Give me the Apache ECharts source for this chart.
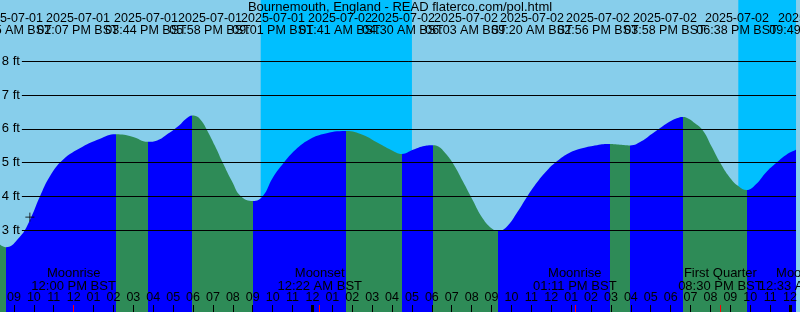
<!DOCTYPE html>
<html><head><meta charset="utf-8">
<script src="https://cdn.jsdelivr.net/npm/echarts@6/dist/echarts.min.js"></script>
<style>html,body{margin:0;padding:0;background:#87CEEB}#c{width:800px;height:312px}</style>
</head><body><div id="c"></div>
<script>
const titleText = 'Bournemouth, England - READ flaterco.com/pol.html';
// time in hours since 2025-07-01 00:00 BST, height in feet
const tideHours = [8.30, 8.583, 9.30, 9.80, 10.30, 10.80, 11.45, 12.45, 13.30, 14.117, 14.95, 15.733, 16.20, 16.65, 17.30, 17.65, 17.967, 18.20, 18.45, 18.70, 19.10, 19.50, 19.95, 20.40, 21.017, 21.50, 22.00, 22.55, 23.15, 23.80, 24.55, 25.683, 26.55, 27.30, 28.05, 28.50, 29.05, 29.55, 30.05, 30.35, 30.65, 31.05, 31.55, 32.05, 32.55, 33.05, 33.333, 33.80, 34.30, 34.80, 35.30, 35.80, 36.30, 36.90, 37.55, 38.30, 38.933, 39.45, 39.967, 40.55, 41.05, 41.55, 42.10, 42.40, 42.633, 42.90, 43.15, 43.60, 44.05, 44.50, 44.95, 45.40, 45.817, 46.30, 46.80, 47.30, 47.80, 48.30];
const tideFeet = [2.57, 2.50, 2.81, 3.30, 3.99, 4.59, 5.08, 5.47, 5.70, 5.84, 5.77, 5.62, 5.66, 5.82, 6.10, 6.30, 6.40, 6.37, 6.22, 5.97, 5.50, 4.99, 4.46, 4.01, 3.87, 4.01, 4.55, 4.99, 5.38, 5.67, 5.85, 5.94, 5.82, 5.58, 5.35, 5.26, 5.38, 5.49, 5.52, 5.47, 5.30, 4.99, 4.46, 3.90, 3.36, 3.04, 2.98, 3.13, 3.54, 4.01, 4.43, 4.78, 5.05, 5.29, 5.43, 5.52, 5.55, 5.53, 5.51, 5.64, 5.85, 6.06, 6.26, 6.33, 6.35, 6.30, 6.20, 5.97, 5.49, 4.99, 4.58, 4.31, 4.19, 4.37, 4.72, 4.99, 5.23, 5.38];
const extremeHours = [8.583, 14.117, 15.733, 17.967, 21.017, 25.683, 28.50, 30.05, 33.333, 38.933, 39.967, 42.633, 45.817];
const extremeDates = ['2025-07-01','2025-07-01','2025-07-01','2025-07-01','2025-07-01','2025-07-02','2025-07-02','2025-07-02','2025-07-02','2025-07-02','2025-07-02','2025-07-02','2025-07-02'];
const extremeTimes = ['08:35 AM BST','02:07 PM BST','03:44 PM BST','05:58 PM BST','09:01 PM BST','01:41 AM BST','04:30 AM BST','06:03 AM BST','09:20 AM BST','02:56 PM BST','03:58 PM BST','06:38 PM BST','09:49 PM BST'];
const nightStart = [21.40, 45.40];
const nightEnd = [29.00, 48.30];
const hourTicks = [9,10,11,12,13,14,15,16,17,18,19,20,21,22,23,24,25,26,27,28,29,30,31,32,33,34,35,36,37,38,39,40,41,42,43,44,45,46,47,48];
const midnightTicks = [24, 48];
const moonHours = [12.0, 24.367, 37.183, 44.5, 48.55];
const moonEvents = ['Moonrise','Moonset','Moonrise','First Quarter','Moonset'];
const moonTimes = ['12:00 PM BST','12:22 AM BST','01:11 PM BST','08:30 PM BST','12:33 AM BST'];
const depthTicks = [3, 4, 5, 6, 7, 8];
const nowMark = [9.8, 3.39];

// layout: pixel centres of the event label columns at the top
const labelCentres = [11, 78, 146, 210, 273, 340, 403, 466, 532, 598, 665, 737, 810];

const X_MIN = 8.3, X_MAX = 48.3, Y_MIN = 0.583, Y_MAX = 9.814;
const FONT = '"Liberation Sans", Arial, sans-serif';
const FLOOD = '#0000FF', EBB = '#2E8B57';

const chart = echarts.init(document.getElementById('c'), null, {renderer: 'canvas'});

const bounds = [tideHours[0]].concat(extremeHours, [tideHours[tideHours.length - 1]]);
const pieces = [];
for (let k = 0; k < bounds.length - 1; k++) {
  const a = bounds[k], b = bounds[k + 1];
  const ha = tideFeet[tideHours.indexOf(a)], hb = tideFeet[tideHours.indexOf(b)];
  const p = {gte: a, color: hb > ha ? FLOOD : EBB};
  if (k === bounds.length - 2) p.lte = b; else p.lt = b;
  pieces.push(p);
}

const pad = n => (n < 10 ? '0' : '') + n;
const inRange = v => v >= X_MIN && v <= X_MAX;

function tickAxis(values, color, width, withLabels, z) {
  return {
    type: 'value', min: X_MIN, max: X_MAX, position: 'bottom', z: z,
    axisLine: {show: false}, splitLine: {show: false},
    axisTick: {show: true, inside: true, length: 7, customValues: values, lineStyle: {color: color, width: width}},
    axisLabel: withLabels ? {show: true, inside: true, margin: 8, customValues: values, color: '#000', fontSize: 12.5, fontFamily: FONT,
      formatter: v => pad((v % 12) || 12)} : {show: false}
  };
}

chart.setOption({
  animation: false,
  backgroundColor: '#87CEEB',
  title: {text: titleText, left: 'center', top: 1, padding: 0,
    textStyle: {fontSize: 13, fontWeight: 'normal', color: '#000', fontFamily: FONT, lineHeight: 13}},
  grid: {left: 0, right: 0, top: 0, bottom: 0, containLabel: false},
  xAxis: [
    tickAxis(hourTicks, '#000', 1, true, 10),
    tickAxis(midnightTicks, '#000', 3, false, 11),
    tickAxis(moonHours.filter(inRange), '#FF0000', 1, false, 12)
  ],
  yAxis: {type: 'value', min: Y_MIN, max: Y_MAX, show: false},
  visualMap: {type: 'piecewise', show: false, dimension: 0, seriesIndex: 0, pieces: pieces},
  series: [
    {
      type: 'line', xAxisIndex: 0, z: 2,
      data: tideHours.map((t, i) => [t, tideFeet[i]]),
      smooth: 0.45, showSymbol: false, silent: true,
      lineStyle: {width: 0},
      areaStyle: {opacity: 1, origin: 'start'},
      markArea: {silent: true, z: 1, itemStyle: {color: '#00BFFF'},
        data: nightStart.map((s, i) => [{xAxis: s}, {xAxis: nightEnd[i]}])},
      markLine: {silent: true, z: 5, symbol: ['none', 'none'],
        lineStyle: {color: '#000', width: 1, type: 'solid', opacity: 1},
        label: {show: true, position: 'start', distance: 2, color: '#000', fontSize: 13, fontFamily: FONT, formatter: '{b}'},
        emphasis: {disabled: true},
        data: depthTicks.map(v => [{coord: [9.4, v], name: v + ' ft'}, {coord: [X_MAX, v]}])}
    },
    {
      type: 'scatter', xAxisIndex: 0, z: 6, silent: true,
      data: [nowMark],
      symbol: 'path://M0,5L10,5M5,0L5,10', symbolSize: 9,
      itemStyle: {color: 'none', borderColor: '#000', borderWidth: 1}
    }
  ]
});

const gfx = [];
const txt = (x, y, s, size) => ({type: 'text', z: 100, silent: true,
  style: {text: s, x: x, y: y, fill: '#000', font: size + 'px ' + FONT, align: 'center', verticalAlign: 'middle', textAlign: 'center', textVerticalAlign: 'middle'}});
extremeHours.forEach((t, i) => {
  const cx = labelCentres[i];
  gfx.push(txt(cx, 19, extremeDates[i], 12.5));
  gfx.push(txt(cx, 31, extremeTimes[i], 12.5));
});
moonHours.forEach((t, i) => {
  const px = chart.convertToPixel({xAxisIndex: 0}, t);
  gfx.push(txt(px, 273, moonEvents[i], 13));
  gfx.push(txt(px, 286, moonTimes[i], 13));
});
chart.setOption({graphic: gfx});
</script></body></html>
